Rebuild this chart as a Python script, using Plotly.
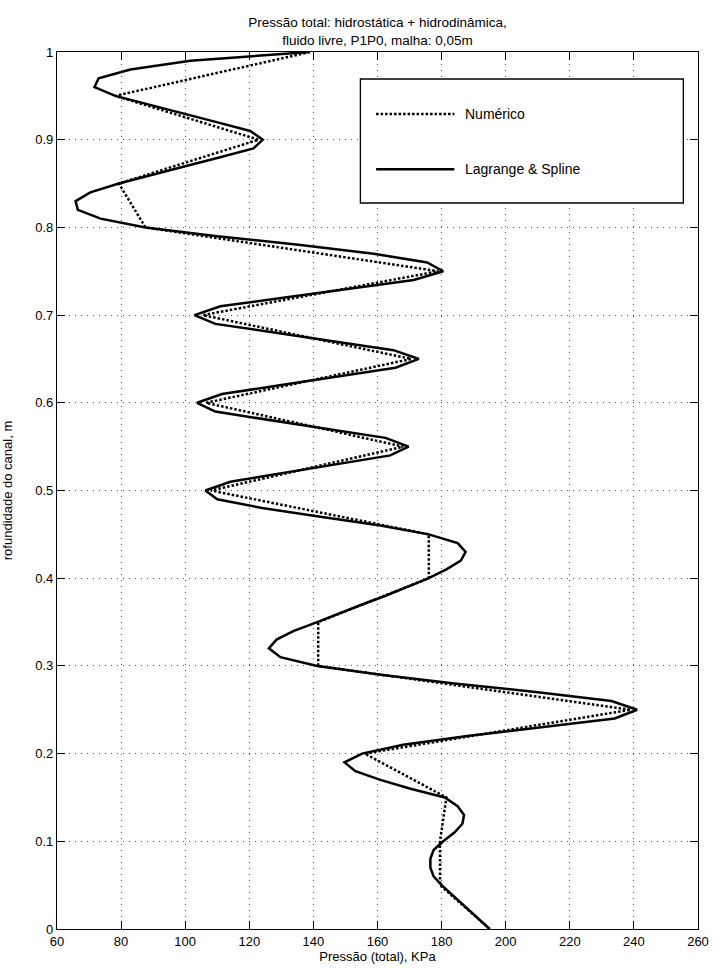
import plotly.graph_objects as go

# ---- data ----
depth_num = [0.00, 0.05, 0.10, 0.15, 0.20, 0.25, 0.30, 0.35, 0.40, 0.45, 0.50,
             0.55, 0.60, 0.65, 0.70, 0.75, 0.80, 0.85, 0.90, 0.95, 1.00]
pres_num = [195, 179.5, 179.5, 181.5, 156, 239, 141.5, 141.5, 176, 176, 108,
            168, 106.5, 170.5, 105.5, 179, 87.6, 79.3, 122.9, 78.2, 139]

depth_spl = [0.00, 0.01, 0.02, 0.03, 0.04, 0.05, 0.06, 0.07, 0.08, 0.09,
             0.10, 0.11, 0.12, 0.13, 0.14, 0.15, 0.16, 0.17, 0.18, 0.19,
             0.20, 0.21, 0.22, 0.23, 0.24, 0.25, 0.26, 0.27, 0.28, 0.29,
             0.30, 0.31, 0.32, 0.33, 0.34, 0.35, 0.36, 0.37, 0.38, 0.39,
             0.40, 0.41, 0.42, 0.43, 0.44, 0.45, 0.46, 0.47, 0.48, 0.49,
             0.50, 0.51, 0.52, 0.53, 0.54, 0.55, 0.56, 0.57, 0.58, 0.59,
             0.60, 0.61, 0.62, 0.63, 0.64, 0.65, 0.66, 0.67, 0.68, 0.69,
             0.70, 0.71, 0.72, 0.73, 0.74, 0.75, 0.76, 0.77, 0.78, 0.79,
             0.80, 0.81, 0.82, 0.83, 0.84, 0.85, 0.86, 0.87, 0.88, 0.89,
             0.90, 0.91, 0.92, 0.93, 0.94, 0.95, 0.96, 0.97, 0.98, 0.99, 1.00]
pres_spl = [195, 192, 189, 186, 183, 180, 177.5, 176.5, 176.5, 177.5,
            180.5, 184, 186.5, 187, 185, 181, 170.3, 160.9, 153.1, 149.7,
            155.2, 168, 188, 212, 234, 241, 233, 210, 184, 161,
            141.2, 129.7, 126.1, 128.5, 133.9, 141.2, 147.9, 155.2, 162.5, 169.4,
            176, 181.5, 186, 187.5, 185, 176, 160.9, 142.2, 124, 110,
            106.3, 114.1, 131, 147.8, 164, 169.7, 162.5, 144.4, 126.5, 109.4,
            103.7, 111.5, 129.5, 147.5, 165.6, 172.9, 165, 146.6, 128, 109.4,
            102.9, 111, 131.1, 151.2, 171.3, 180.5, 175.5, 158.8, 136, 110,
            87.6, 73.6, 66.5, 65.8, 70.4, 79.3, 90.2, 100.3, 110.9, 121.3,
            124.2, 120.3, 109.8, 99.3, 88.7, 78.2, 71.7, 73, 82.9, 101.6, 138.8]

x_ticks = [60, 80, 100, 120, 140, 160, 180, 200, 220, 240, 260]
y_ticks = [0, 0.1, 0.2, 0.3, 0.4, 0.5, 0.6, 0.7, 0.8, 0.9, 1]

names = ["Numérico", "Lagrange & Spline"]
title_text = "Pressão total: hidrostática + hidrodinâmica,<br>fluido livre, P1P0, malha: 0,05m"
x_title = "Pressão (total), KPa"
y_title = "rofundidade do canal, m"

FONT = "Liberation Sans, Arial, Helvetica, sans-serif"
DOT = "2.5px,2px"

fig = go.Figure()
fig.add_trace(go.Scatter(x=pres_num, y=depth_num, mode="lines", name=names[0],
                         line=dict(color="black", width=2.5, dash=DOT)))
fig.add_trace(go.Scatter(x=pres_spl, y=depth_spl, mode="lines", name=names[1],
                         line=dict(color="black", width=2.5)))

axis_common = dict(showline=True, linecolor="black", linewidth=1.2, mirror="ticks",
                   ticks="inside", ticklen=8, tickcolor="black", tickwidth=1,
                   showgrid=True, gridcolor="#555555", gridwidth=1, griddash="1px,5px",
                   zeroline=False, automargin=False,
                   tickfont=dict(family=FONT, size=13, color="black"))

fig.update_xaxes(range=[60, 260], tickvals=x_ticks,
                 title=dict(text=x_title, font=dict(family=FONT, size=13, color="black"), standoff=2),
                 **axis_common)
fig.update_yaxes(range=[0, 1], tickvals=y_ticks,
                 title=dict(text=y_title, font=dict(family=FONT, size=13, color="black"), standoff=22),
                 **axis_common)

# Legend box drawn MATLAB-style
box = dict(x0=0.4733, x1=0.9771, y0=0.8278, y1=0.9692)
fig.add_shape(type="rect", xref="paper", yref="paper", layer="above",
              line=dict(color="black", width=1.3), fillcolor="white", **box)
leg_rows = [0.9293, 0.8662]
leg_dash = [DOT, "solid"]
for name, yy, dsh in zip(names, leg_rows, leg_dash):
    fig.add_shape(type="line", xref="paper", yref="paper", layer="above",
                  x0=0.4978, x1=0.6199, y0=yy, y1=yy,
                  line=dict(color="black", width=2.5, dash=dsh))
    fig.add_annotation(xref="paper", yref="paper", x=0.6335, y=yy, text=name,
                       showarrow=False, xanchor="left", yanchor="middle",
                       font=dict(family=FONT, size=14, color="black"))

fig.update_layout(
    width=713, height=968,
    margin=dict(l=56.5, r=15.3, t=52, b=39, autoexpand=False),
    paper_bgcolor="white", plot_bgcolor="white",
    showlegend=False,
    title=dict(text=title_text, x=0.5, xref="paper", y=0.972, yanchor="top",
               font=dict(family=FONT, size=13.5, color="black")),
    font=dict(family=FONT, color="black"),
)

fig.write_html(
    "out.html",
    config={"displayModeBar": False},
    post_script="document.body.style.margin='0';document.body.style.padding='0';"
                "document.documentElement.style.overflow='hidden';",
)
